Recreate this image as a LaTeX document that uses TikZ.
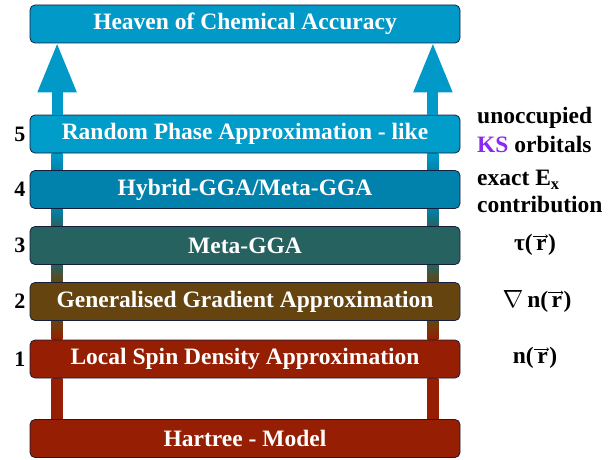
\documentclass[tikz,border=0pt]{standalone}
\usepackage{fontspec}
\setmainfont{Liberation Serif}
\usetikzlibrary{arrows.meta,positioning,backgrounds}

\definecolor{heavenblue}{RGB}{0,153,200}
\definecolor{rpablue}{RGB}{0,156,202}
\definecolor{hybridblue}{RGB}{0,130,172}
\definecolor{metateal}{RGB}{38,98,96}
\definecolor{ggabrown}{RGB}{102,68,16}
\definecolor{lsdared}{RGB}{150,30,2}
\definecolor{edgeblue}{RGB}{20,30,60}
\definecolor{ksviolet}{RGB}{140,40,240}

% position vector r with a small arrow on top
\newcommand\vecr{\tikz[baseline=(rr.base)]{\node[inner sep=0pt] (rr) {r};
  \draw[-{To[length=2.5pt,width=4pt]}, line width=0.6pt] ([xshift=-3pt,yshift=3pt]rr.north west) -- ([xshift=1pt,yshift=3pt]rr.north east);}}

\tikzset{
  rung/.style={draw=edgeblue, line width=0.8pt, rounded corners=5pt,
    minimum width=430pt, minimum height=38pt, inner sep=0pt, text=white,
    font=\fontsize{23.5}{25}\selectfont\bfseries},
  rungno/.style={inner sep=0pt, font=\fontsize{22}{24}\selectfont\bfseries},
  note/.style={inner sep=0pt, align=left, font=\fontsize{23.5}{29}\selectfont\bfseries},
  climb/.style={draw=heavenblue, line width=11pt, shorten >=-1pt,
    -{Triangle[width=36pt,length=50pt]}}
}

\begin{document}
\begin{tikzpicture}[x=1pt,y=-1pt]
\useasboundingbox (0,0) rectangle (616,460);

% the rungs of the ladder
\node[rung, fill=heavenblue] (heaven) at (245,24) {Heaven of Chemical Accuracy};
\node[rung, fill=rpablue] (rpa) at (245,134) {Random Phase Approximation - like};
\node[rung, fill=hybridblue] (hybrid) at (245,189.5) {Hybrid-GGA/Meta-GGA};
\node[rung, fill=metateal] (meta) at (245,245.5) {Meta-GGA};
\node[rung, fill=ggabrown] (gga) at (245,301.5) {Generalised Gradient Approximation};
\node[rung, fill=lsdared] (lsda) at (245,359) {Local Spin Density Approximation};
\node[rung, fill=lsdared] (hartree) at (245,438.5) {Hartree - Model};

% rung numbers
\node[rungno, left=4pt of rpa] (n5) {5};
\node[rungno, left=4pt of hybrid] (n4) {4};
\node[rungno, left=4pt of meta] (n3) {3};
\node[rungno, left=4pt of gga] (n2) {2};
\node[rungno, left=4pt of lsda] (n1) {1};

% ingredients
\node[note, anchor=west] (rpanote) at (477,130) {unoccupied\\\textcolor{ksviolet}{KS} orbitals};
\node[note, anchor=west, font=\fontsize{23.5}{27}\selectfont\bfseries] (hybridnote) at (477,191.5) {exact E\textsubscript{x}\\contribution};
\node[note] (metanote) at (535,245) {τ(\vecr)};
\node[note] (gganote) at (537,301) {$\nabla$\,n(\vecr)};
\node[note] (lsdanote) at (535,358) {n(\vecr)};

% rails
\begin{scope}[on background layer]
\foreach \lo/\hi/\cl/\ch in {hartree/lsda/lsdared/lsdared, lsda/gga/lsdared/ggabrown,
    gga/meta/ggabrown/metateal, meta/hybrid/metateal/hybridblue, hybrid/rpa/hybridblue/rpablue}{
  \shade[bottom color=\cl, top color=\ch] ([xshift=22pt]\lo.north west) rectangle ([xshift=33pt]\hi.south west);
  \shade[bottom color=\cl, top color=\ch] ([xshift=-33pt]\lo.north east) rectangle ([xshift=-22pt]\hi.south east);
}
\end{scope}

% arrows up to heaven
\draw[climb] ([xshift=27.5pt]rpa.north west) -- ([xshift=27.5pt]heaven.south west);
\draw[climb] ([xshift=-27.5pt]rpa.north east) -- ([xshift=-27.5pt]heaven.south east);
\end{tikzpicture}
\end{document}
